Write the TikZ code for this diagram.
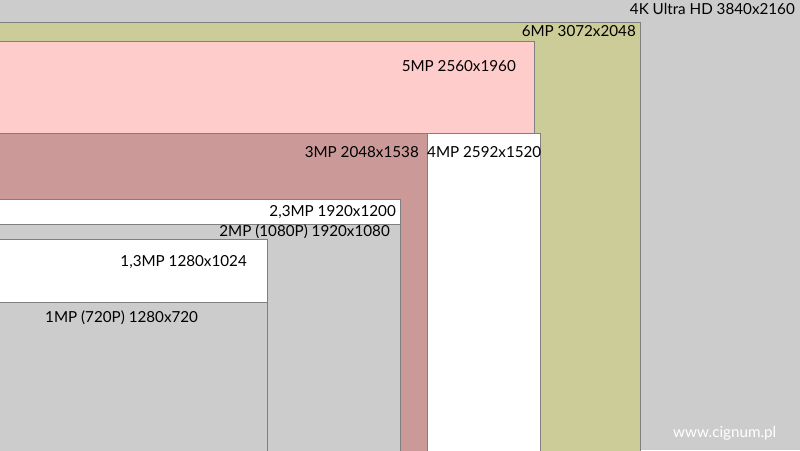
\documentclass[tikz,border=0pt]{standalone}
\usepackage{fontspec}
\setmainfont{Lato}
\definecolor{bggray}{HTML}{CCCCCC}
\definecolor{olive6}{HTML}{CCCC99}
\definecolor{pink5}{HTML}{FFCCCC}
\definecolor{rose3}{HTML}{CC9999}
\definecolor{edgegray}{HTML}{7F7F7F}
\begin{document}
\begin{tikzpicture}[x=1pt,y=-1pt,
  res/.style={draw=edgegray,line width=1pt},
  lbl/.style={font=\fontsize{15.2}{17}\selectfont,inner sep=0pt,text=black}]
\useasboundingbox (0,0) rectangle (800,450);
\fill[bggray] (0,0) rectangle (800,450);
\filldraw[res,fill=olive6] (-2,22) rectangle (640,452);
\node[lbl,anchor=east] (mp6) at (636,31) {6MP 3072x2048};
\filldraw[res,fill=pink5] (-2,41) rectangle (534,133);
\node[lbl,anchor=east] (mp5) at (516,66) {5MP 2560x1960};
\filldraw[res,fill=rose3] (-2,133) rectangle (427,452);
\node[lbl,anchor=east] (mp3) at (419,152) {3MP 2048x1538};
\filldraw[res,fill=white] (427,133) rectangle (540,452);
\node[lbl,anchor=west] (mp4) at (427,152) {4MP 2592x1520};
\filldraw[res,fill=white] (-2,199) rectangle (400,224);
\node[lbl,anchor=east] (mp23) at (396,212) {2,3MP 1920x1200};
\filldraw[res,fill=bggray] (-2,224) rectangle (400,452);
\node[lbl,anchor=east] (mp2) at (390,232) {2MP (1080P) 1920x1080};
\filldraw[res,fill=white] (-2,239) rectangle (267,302);
\node[lbl,anchor=east] (mp13) at (247,262) {1,3MP 1280x1024};
\filldraw[res,fill=bggray] (-2,302) rectangle (267,452);
\node[lbl,anchor=west] (mp1) at (45,318) {1MP (720P) 1280x720};
\node[lbl,anchor=east] (uhd) at (795,9) {4K Ultra HD 3840x2160};
\node[lbl,anchor=west,text=white] (www) at (673,433) {www.cignum.pl};
\end{tikzpicture}
\end{document}
